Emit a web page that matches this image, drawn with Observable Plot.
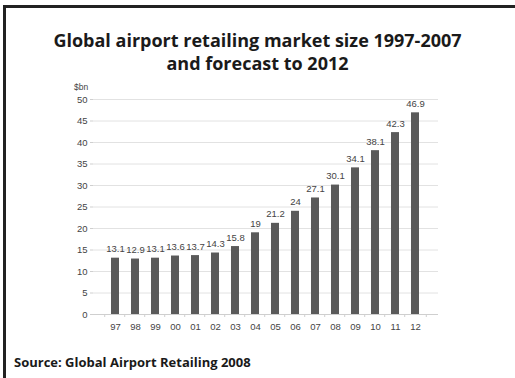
<!DOCTYPE html>
<html>
<head>
<meta charset="utf-8">
<script src="https://cdn.jsdelivr.net/npm/d3@7"></script>
<script src="https://cdn.jsdelivr.net/npm/@observablehq/plot@0.6"></script>
<style>
  html, body { margin: 0; padding: 0; background: #fff; }
  body { width: 515px; height: 378px; position: relative; overflow: hidden; font-family: "Open Sans", Lato, sans-serif; }
  #frame { position: absolute; left: 3px; top: 5px; width: 520px; height: 400px; border-left: 3px solid #222; border-top: 3px solid #222; }
  #title { position: absolute; left: 0; width: 515px; top: 29px; text-align: center; font-weight: bold; font-size: 18px; line-height: 23px; color: #1a1a1a; letter-spacing: 0; }
  #unit { position: absolute; left: 74px; top: 82px; font-family: "Liberation Sans", Arial, sans-serif; font-size: 8.5px; color: #444; }
  #chart { position: absolute; left: 0; top: 75px; }
  #source { position: absolute; left: 14px; top: 353px; font-weight: bold; font-size: 13px; color: #1a1a1a; }
</style>
</head>
<body>
<div id="frame"></div>
<div id="title">Global airport retailing market size 1997-2007<br>and forecast to 2012</div>
<div id="unit">$bn</div>
<div id="chart"></div>
<div id="source">Source: Global Airport Retailing 2008</div>
<script>
const years = ["97","98","99","00","01","02","03","04","05","06","07","08","09","10","11","12"];
const values = [13.1,12.9,13.1,13.6,13.7,14.3,15.8,19,21.2,24,27.1,30.1,34.1,38.1,42.3,46.9];
const labels = ["13.1","12.9","13.1","13.6","13.7","14.3","15.8","19","21.2","24","27.1","30.1","34.1","38.1","42.3","46.9"];
const yTicks = [0,5,10,15,20,25,30,35,40,45,50];

const data = years.map((y, i) => ({year: y, value: values[i], label: labels[i]}));

const W = 515, H = 275, mL = 93, mR = 77, mT = 24, mB = 36;
const step = (W - mL - mR) / years.length;

const chart = Plot.plot({
  width: W, height: H,
  marginLeft: mL, marginRight: mR, marginTop: mT, marginBottom: mB,
  style: {fontFamily: "'Liberation Sans', Arial, sans-serif", fontSize: "9px", color: "#444", background: "transparent"},
  x: {domain: years, padding: 0.58, align: 0.5, label: null},
  y: {domain: [0, 50], label: null},
  marks: [
    Plot.gridY(yTicks, {stroke: "#e2e2e2", strokeOpacity: 1, strokeWidth: 1}),
    Plot.ruleX([0], {frameAnchor: "left", stroke: "#cfcfcf"}),
    Plot.axisY({ticks: yTicks, tickSize: 3, tickPadding: 3, stroke: "#cfcfcf", fill: "#444", fontSize: 9.5}),
    Plot.axisX({tickSize: 0, tickPadding: 9, fill: "#444", fontSize: 9.5}),
    Plot.barY(data, {x: "year", y: "value", fill: "#5a5a5a"}),
    Plot.ruleY([0], {stroke: "#cfcfcf"}),
    Plot.ruleX(data, {x: "year", y1: 0, y2: 0, dx: -step / 2, insetBottom: -3, stroke: "#cfcfcf"}),
    Plot.ruleX(data.slice(-1), {x: "year", y1: 0, y2: 0, dx: step / 2, insetBottom: -3, stroke: "#cfcfcf"}),
    Plot.text(data, {x: "year", y: "value", text: "label", dy: -6, lineAnchor: "bottom", fill: "#444", fontSize: 9.5})
  ]
});
document.getElementById("chart").appendChild(chart);
</script>
</body>
</html>
